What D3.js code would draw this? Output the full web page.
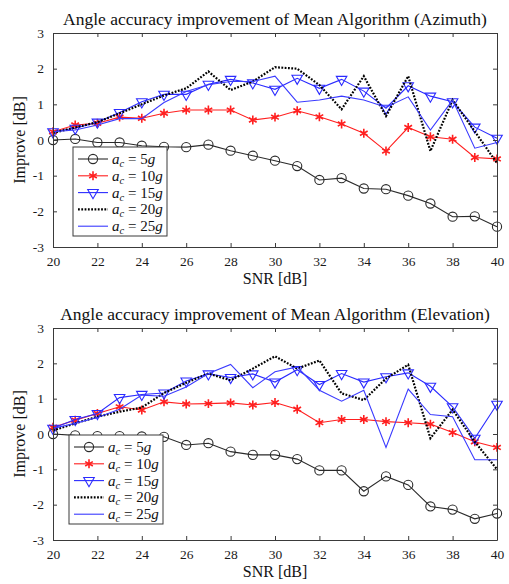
<!DOCTYPE html>
<html>
<head>
<meta charset="utf-8">
<script src="https://cdn.jsdelivr.net/npm/d3@7"></script>
<style>
  html, body { margin: 0; padding: 0; background: #fff; }
  svg { display: block; }
</style>
</head>
<body>
<svg id="chart" width="509" height="584"></svg>
<script>
// SNR values on the x axis
const snr = [20, 21, 22, 23, 24, 25, 26, 27, 28, 29, 30, 31, 32, 33, 34, 35, 36, 37, 38, 39, 40];
const xTicks = [20, 22, 24, 26, 28, 30, 32, 34, 36, 38, 40];
const yTicks = [-3, -2, -1, 0, 1, 2, 3];
const accel = ["5", "10", "15", "20", "25"];

// Azimuth improvement [dB] per acceleration level
const az5  = [0, 0.03, -0.07, -0.07, -0.16, -0.19, -0.2, -0.13, -0.3, -0.44, -0.58, -0.73, -1.12, -1.07, -1.36, -1.38, -1.56, -1.78, -2.15, -2.14, -2.43];
const az10 = [0.23, 0.42, 0.47, 0.64, 0.61, 0.75, 0.84, 0.84, 0.84, 0.56, 0.64, 0.82, 0.65, 0.45, 0.19, -0.31, 0.35, 0.09, 0.02, -0.49, -0.53];
const az15 = [0.23, 0.33, 0.5, 0.77, 1.07, 1.28, 1.28, 1.56, 1.7, 1.6, 1.42, 1.73, 1.45, 1.7, 1.37, 0.89, 1.52, 1.23, 1.07, 0.36, 0.05];
const az20 = [0.2, 0.35, 0.5, 0.75, 1.0, 1.25, 1.45, 1.92, 1.4, 1.64, 2.04, 2.0, 1.54, 0.86, 1.79, 0.67, 1.79, -0.31, 1.12, 0.24, -0.65];
const az25 = [0.23, 0.28, 0.42, 0.6, 0.6, 1.05, 1.36, 1.55, 1.64, 1.64, 1.79, 1.06, 1.12, 1.23, 1.12, 0.92, 1.21, 0.28, 1.12, -0.23, -0.07];

// Elevation improvement [dB] per acceleration level
const el5  = [0, -0.04, -0.06, -0.06, -0.07, -0.08, -0.31, -0.26, -0.5, -0.59, -0.59, -0.71, -1.03, -1.03, -1.62, -1.2, -1.44, -2.05, -2.14, -2.4, -2.25];
const el10 = [0.19, 0.39, 0.58, 0.77, 0.68, 0.91, 0.85, 0.86, 0.88, 0.82, 0.89, 0.7, 0.32, 0.41, 0.41, 0.35, 0.32, 0.28, 0.04, -0.22, -0.38];
const el15 = [0.16, 0.41, 0.58, 1.03, 1.12, 1.16, 1.5, 1.7, 1.6, 1.7, 1.47, 1.82, 1.4, 1.71, 1.47, 1.62, 1.73, 1.35, 0.77, -0.12, 0.84];
const el20 = [0.1, 0.3, 0.49, 0.63, 0.75, 1.16, 1.45, 1.71, 1.52, 1.85, 2.2, 1.85, 2.08, 1.15, 0.96, 1.57, 1.96, -0.12, 0.69, -0.22, -1.0];
const el25 = [0.16, 0.3, 0.47, 0.7, 1.1, 1.07, 1.33, 1.71, 1.97, 1.31, 1.76, 1.9, 1.24, 0.93, 1.24, -0.38, 1.27, 0.55, 0.49, -0.73, -0.73];

// Line styles for the five acceleration levels
const styles = [
  { color: "#2a2a2a", width: 1.1, dash: null, marker: "circle" },
  { color: "#ff1f1f", width: 1.1, dash: null, marker: "asterisk" },
  { color: "#2b2bff", width: 1.1, dash: null, marker: "triangle" },
  { color: "#000000", width: 2.2, dash: "1.8,1.5", marker: null },
  { color: "#3a3aff", width: 1.1, dash: null, marker: null }
];

const svg = d3.select("#chart");
const serif = "'Liberation Serif', 'Times New Roman', serif";

function drawMarker(sel, kind, color) {
  if (kind === "circle") {
    sel.append("circle").attr("r", 4.6)
      .attr("fill", "none").attr("stroke", color).attr("stroke-width", 1.1);
  } else if (kind === "asterisk") {
    sel.append("path").attr("d", d3.symbol(d3.symbolAsterisk, 55)())
      .attr("fill", "none").attr("stroke", color).attr("stroke-width", 1.6);
  } else if (kind === "triangle") {
    sel.append("path").attr("d", d3.symbol(d3.symbolTriangle, 48)())
      .attr("transform", "rotate(180)")
      .attr("fill", "none").attr("stroke", color).attr("stroke-width", 1.1);
  }
}

function panel(opts) {
  const { left, right, top, bottom, title, series, legend } = opts;
  const x = d3.scaleLinear().domain([20, 40]).range([left, right]);
  const y = d3.scaleLinear().domain([-3, 3]).range([bottom, top]);
  const g = svg.append("g");

  // plot background
  g.append("rect").attr("x", left).attr("y", top)
    .attr("width", right - left).attr("height", bottom - top).attr("fill", "#fff");

  // data lines and markers
  series.forEach((vals, i) => {
    const st = styles[i];
    const pts = snr.map((s, k) => [s, vals[k]]);
    g.append("path")
      .attr("d", d3.line().x(d => x(d[0])).y(d => y(d[1]))(pts))
      .attr("fill", "none").attr("stroke", st.color)
      .attr("stroke-width", st.width)
      .attr("stroke-dasharray", st.dash)
      .attr("stroke-linejoin", "miter");
    if (st.marker) {
      g.append("g").selectAll("g").data(pts).join("g")
        .attr("transform", d => `translate(${x(d[0])},${y(d[1])})`)
        .each(function () { drawMarker(d3.select(this), st.marker, st.color); });
    }
  });

  // axes: ticks pointing inward on all four sides
  const axColor = "#3a3a3a";
  const styleAxis = (a) => {
    a.select(".domain").attr("stroke", axColor).attr("stroke-width", 1);
    a.selectAll(".tick line").attr("stroke", axColor);
    a.selectAll("text").attr("font-family", serif).attr("font-size", 13.5).attr("fill", "#1a1a1a");
  };
  const intFmt = d => String(d);
  g.append("g").attr("transform", `translate(0,${bottom})`)
    .call(d3.axisBottom(x).tickValues(xTicks).tickFormat(intFmt).tickSize(-4).tickSizeOuter(0).tickPadding(9))
    .call(styleAxis);
  g.append("g").attr("transform", `translate(0,${top})`)
    .call(d3.axisTop(x).tickValues(xTicks).tickSize(-4).tickSizeOuter(0).tickFormat(""))
    .call(styleAxis);
  g.append("g").attr("transform", `translate(${left},0)`)
    .call(d3.axisLeft(y).tickValues(yTicks).tickFormat(intFmt).tickSize(-4).tickSizeOuter(0).tickPadding(9))
    .call(styleAxis);
  g.append("g").attr("transform", `translate(${right},0)`)
    .call(d3.axisRight(y).tickValues(yTicks).tickSize(-4).tickSizeOuter(0).tickFormat(""))
    .call(styleAxis);

  // title and axis labels
  g.append("text").attr("x", (left + right) / 2).attr("y", top - 8)
    .attr("text-anchor", "middle").attr("font-family", serif).attr("font-size", 17.5)
    .attr("fill", "#111").text(title);
  g.append("text").attr("x", (left + right) / 2).attr("y", bottom + 37)
    .attr("text-anchor", "middle").attr("font-family", serif).attr("font-size", 16)
    .attr("fill", "#111").text("SNR [dB]");
  g.append("text")
    .attr("transform", `translate(${left - 28},${(top + bottom) / 2}) rotate(-90)`)
    .attr("text-anchor", "middle").attr("font-family", serif).attr("font-size", 16)
    .attr("fill", "#111").text("Improve [dB]");

  // legend box
  const lg = g.append("g").attr("transform", `translate(${legend.x},${legend.y})`);
  lg.append("rect").attr("width", 94).attr("height", 89)
    .attr("fill", "#fff").attr("stroke", "#3a3a3a").attr("stroke-width", 1);
  accel.forEach((a, i) => {
    const st = styles[i];
    const row = lg.append("g").attr("transform", `translate(0,${12 + i * 16.8})`);
    row.append("line").attr("x1", 5).attr("x2", 35).attr("y1", 0).attr("y2", 0)
      .attr("stroke", st.color).attr("stroke-width", st.width)
      .attr("stroke-dasharray", st.dash);
    if (st.marker) {
      const m = row.append("g").attr("transform", "translate(20,0)");
      drawMarker(m, st.marker, st.color);
    }
    const t = row.append("text").attr("x", 39).attr("y", 5)
      .attr("font-family", serif).attr("font-size", 15).attr("fill", "#111");
    t.append("tspan").attr("font-style", "italic").text("a");
    t.append("tspan").attr("font-style", "italic").attr("font-size", 10.5).attr("dy", 3).text("c");
    t.append("tspan").attr("dy", -3).text(" = " + a);
    t.append("tspan").attr("font-style", "italic").text("g");
  });
}

panel({
  left: 53, right: 497, top: 33, bottom: 247,
  title: "Angle accuracy improvement of Mean Algorithm (Azimuth)",
  series: [az5, az10, az15, az20, az25],
  legend: { x: 73, y: 147 }
});

panel({
  left: 53, right: 497, top: 328, bottom: 540,
  title: "Angle accuracy improvement of Mean Algorithm (Elevation)",
  series: [el5, el10, el15, el20, el25],
  legend: { x: 69, y: 435 }
});
</script>
</body>
</html>
